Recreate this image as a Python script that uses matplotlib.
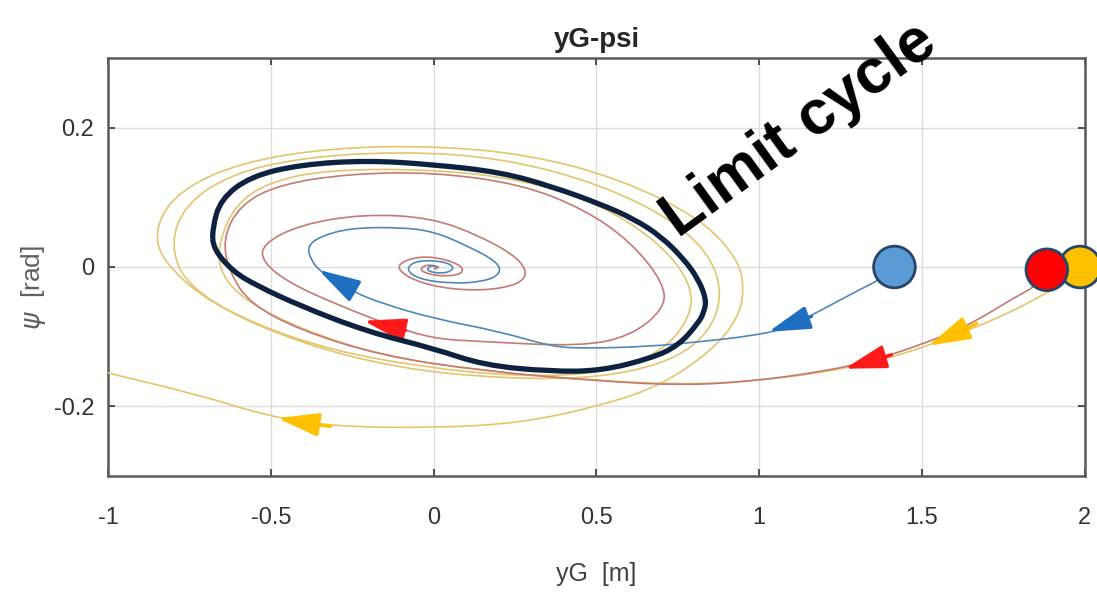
import matplotlib
matplotlib.use("Agg")
import matplotlib.pyplot as plt
from matplotlib.path import Path
from matplotlib.patches import PathPatch

plt.rcParams['font.family'] = ['Liberation Sans', 'DejaVu Sans']
plt.rcParams['mathtext.fontset'] = 'dejavusans'

# ---------------- data ----------------
title = "yG-psi"
xlabel = "yG  [m]"
ylabel = r"$\psi$  [rad]"
annotation = "Limit cycle"

xticks = [-1, -0.5, 0, 0.5, 1, 1.5, 2]
xticklabels = ["-1", "-0.5", "0", "0.5", "1", "1.5", "2"]
yticks = [-0.2, 0, 0.2]
yticklabels = ["-0.2", "0", "0.2"]

# hand drawn limit cycle (closed)
cycle_x = [-0.680, -0.655, -0.563, -0.409, -0.203, 0.000, 0.206, 0.360, 0.514, 0.615,
           0.698, 0.769, 0.812, 0.837, 0.831, 0.812, 0.751, 0.668, 0.514, 0.360,
           0.154, 0.000, -0.203, -0.409, -0.542, -0.615, -0.677]
cycle_y = [0.054, 0.097, 0.130, 0.147, 0.153, 0.147, 0.136, 0.116, 0.090, 0.069,
           0.044, 0.011, -0.017, -0.046, -0.064, -0.081, -0.113, -0.131, -0.149, -0.150,
           -0.141, -0.117, -0.093, -0.056, -0.027, -0.007, 0.026]

# blue trajectory (start 1.415, 0)
blue_x = [1.415, 1.375, 1.314, 1.182, 1.077, 0.975, 0.822, 0.668, 0.462, 0.360, 0.206,
          0.000, -0.154, -0.246, -0.348, -0.378, -0.388, -0.348, -0.255, -0.102, 0.000,
          0.105, 0.197, 0.206, 0.154, 0.052, -0.049, -0.086, -0.055, 0.022, 0.068,
          0.037, -0.025, -0.009, 0.010]
blue_y = [0.000, -0.017, -0.031, -0.064, -0.089, -0.099, -0.107, -0.114, -0.117, -0.114,
          -0.093, -0.074, -0.053, -0.036, -0.007, 0.011, 0.030, 0.044, 0.056, 0.057,
          0.051, 0.030, 0.007, -0.010, -0.021, -0.024, -0.017, -0.003, 0.009, 0.009,
          0.000, -0.010, -0.006, 0.003, 0.000]

# red trajectory (start 1.883, -0.004)
red_x = [1.883, 1.852, 1.797, 1.643, 1.489, 1.335, 1.182, 0.975, 0.769, 0.514, 0.145,
         -0.163, -0.409, -0.563, -0.625, -0.649, -0.594, -0.471, -0.255, 0.000, 0.268,
         0.462, 0.606, 0.708, 0.708, 0.606, 0.452, 0.145, 0.000, -0.132, -0.286,
         -0.440, -0.526, -0.526, -0.409, -0.215, -0.009, 0.145, 0.268, 0.289, 0.215,
         0.092, -0.040, -0.117, -0.086, -0.009, 0.083, 0.092, 0.022, -0.046, -0.025,
         0.022, 0.000]
red_y = [-0.004, -0.027, -0.040, -0.084, -0.113, -0.136, -0.151, -0.164, -0.170, -0.164,
         -0.149, -0.127, -0.091, -0.053, -0.010, 0.040, 0.090, 0.119, 0.134, 0.136,
         0.119, 0.083, 0.036, -0.024, -0.060, -0.099, -0.114, -0.107, -0.103, -0.084,
         -0.056, -0.024, 0.007, 0.033, 0.061, 0.076, 0.071, 0.044, 0.011, -0.017,
         -0.031, -0.034, -0.024, -0.003, 0.011, 0.016, 0.004, -0.010, -0.014, -0.006,
         0.004, 0.000, -0.003]

# yellow trajectory (start 1.985, 0) - spirals outward and leaves
yel_x = [1.985, 1.945, 1.868, 1.745, 1.591, 1.437, 1.283, 1.068, 0.822, 0.514, 0.145,
         -0.163, -0.409, -0.578, -0.655, -0.662, -0.609, -0.502, -0.317, 0.000, 0.268,
         0.514, 0.698, 0.791, 0.791, 0.698, 0.514, 0.268, 0.000, -0.317, -0.594,
         -0.763, -0.809, -0.763, -0.625, -0.409, -0.102, 0.206, 0.514, 0.760, 0.877,
         0.877, 0.760, 0.514, 0.206, -0.102, -0.409, -0.686, -0.840, -0.855, -0.778,
         -0.594, -0.317, 0.000, 0.298, 0.575, 0.822, 0.935, 0.954, 0.935, 0.852,
         0.698, 0.514, 0.268, 0.000, -0.308, -0.511, -0.717, -0.994, -1.030]
yel_y = [0.000, -0.021, -0.041, -0.071, -0.100, -0.126, -0.144, -0.160, -0.169, -0.164,
         -0.149, -0.127, -0.089, -0.049, -0.010, 0.033, 0.090, 0.123, 0.140, 0.140,
         0.126, 0.090, 0.033, -0.024, -0.071, -0.124, -0.153, -0.157, -0.146, -0.120,
         -0.074, -0.024, 0.033, 0.090, 0.133, 0.157, 0.166, 0.157, 0.119, 0.061,
         -0.003, -0.074, -0.131, -0.160, -0.160, -0.146, -0.110, -0.053, 0.011, 0.061,
         0.111, 0.150, 0.171, 0.174, 0.161, 0.126, 0.069, 0.011, -0.031, -0.074,
         -0.121, -0.170, -0.199, -0.224, -0.231, -0.229, -0.214, -0.184, -0.153, -0.148]

# direction arrows: (tail_x, tail_y, tip_x, tip_y)
blue_arrows = [(-0.255, -0.031, -0.354, -0.004), (1.160, -0.071, 1.028, -0.093)]
red_arrows = [(-0.086, -0.091, -0.215, -0.077), (1.406, -0.126, 1.262, -0.146)]
yel_arrows = [(1.668, -0.081, 1.520, -0.113), (-0.317, -0.229, -0.480, -0.217)]

# initial states (markers)
start_x = [1.985, 1.883, 1.415]
start_y = [0.000, -0.004, 0.000]
start_colors = ['#ffc000', '#ff0000', '#5b9bd5']

# ---------------- drawing ----------------
def smooth_path(xs, ys, closed=False):
    pts = list(zip(xs, ys))
    n = len(pts)
    if closed:
        mid = lambda a, b: ((a[0] + b[0]) / 2, (a[1] + b[1]) / 2)
        verts = [mid(pts[-1], pts[0])]
        codes = [Path.MOVETO]
        for i in range(n):
            p = pts[i]
            q = pts[(i + 1) % n]
            verts += [p, mid(p, q)]
            codes += [Path.CURVE3, Path.CURVE3]
        return Path(verts, codes)
    verts = [pts[0]]
    codes = [Path.MOVETO]
    for i in range(1, n - 1):
        p, q = pts[i], pts[i + 1]
        verts += [p, ((p[0] + q[0]) / 2, (p[1] + q[1]) / 2)]
        codes += [Path.CURVE3, Path.CURVE3]
    verts.append(pts[-1])
    codes.append(Path.LINETO)
    return Path(verts, codes)

fig = plt.figure(figsize=(10.97, 5.93), dpi=100)
ax = fig.add_axes([0.0985, 0.1973, 0.8905, 0.7049])

ax.set_xlim(-1, 2)
ax.set_ylim(-0.3, 0.3)
ax.set_xticks(xticks)
ax.set_xticklabels(xticklabels)
ax.set_yticks(yticks)
ax.set_yticklabels(yticklabels)
ax.grid(True, color='#dcdcdc', lw=1.0)
ax.set_axisbelow(True)
for s in ax.spines.values():
    s.set_color('#5a5a5a')
    s.set_linewidth(1.8)
ax.tick_params(direction='in', length=5, width=1.2, color='#333333',
               top=True, right=True, labelsize=17, labelcolor='#333333')
ax.tick_params(axis='x', pad=22)
ax.tick_params(axis='y', pad=10)

line_specs = [
    (yel_x, yel_y, '#e2c56c'),
    (red_x, red_y, '#c47a70'),
    (blue_x, blue_y, '#4f88b8'),
]
for xs, ys, c in line_specs:
    ax.add_patch(PathPatch(smooth_path(xs, ys), fill=False, edgecolor=c, lw=1.2, zorder=3))

for arrows, c in [(blue_arrows, '#1f6fc0'), (red_arrows, '#ff1a1a'), (yel_arrows, '#ffc000')]:
    for tx, ty, hx, hy in arrows:
        ax.annotate('', xy=(hx, hy), xytext=(tx, ty),
                    arrowprops=dict(arrowstyle='-|>,head_length=0.85,head_width=0.24',
                                    color=c, lw=2.4, mutation_scale=30,
                                    shrinkA=0, shrinkB=0), zorder=4)

ax.add_patch(PathPatch(smooth_path(cycle_x, cycle_y, closed=True), fill=False,
                       edgecolor='#0d2240', lw=3.8, zorder=5))

ax.scatter(start_x, start_y, s=900, c=start_colors, edgecolors='#27456b',
           linewidths=2.0, zorder=6, clip_on=False)

ax.text(0.751, 0.041, annotation, rotation=36, rotation_mode='anchor',
        ha='left', va='baseline', fontsize=45, fontweight='bold', color='black',
        zorder=7, clip_on=False)

ax.set_title(title, fontsize=20, fontweight='bold', color='#262626', pad=8)
ax.set_xlabel(xlabel, fontsize=18, color='#404040')
ax.xaxis.set_label_coords(0.5, -0.205)
ax.set_ylabel(ylabel, fontsize=19, color='#606060')
ax.yaxis.set_label_coords(-0.061, 0.45)

fig.savefig('out.png', dpi=100)
